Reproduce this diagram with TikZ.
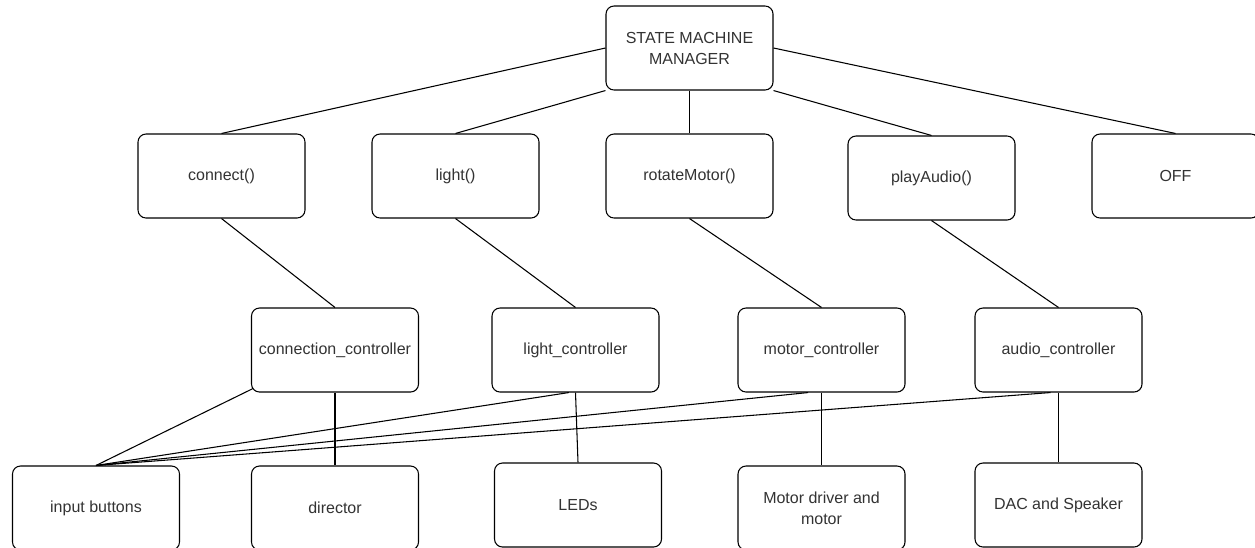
\documentclass[tikz,border=0pt]{standalone}
\usepackage{fontspec}
\setmainfont{Liberation Sans}
\tikzset{
  box/.style={draw, rounded corners=6pt, line width=0.8pt, fill=white,
    minimum width=125.25pt, minimum height=63pt, inner sep=0pt,
    align=center, text=black!80, font=\fontsize{12}{15.75}\selectfont}
}
\begin{document}
\begin{tikzpicture}[x=0.75pt, y=-0.75pt, line width=0.8pt]
  \useasboundingbox (0,0) rectangle (1255,547);
  \draw
    (689.5,48) node[box] (smm){STATE MACHINE\\MANAGER}
    (221.5,176) node[box] (con){connect()}
    (455.5,176) node[box] (lig){light()}
    (689.5,176) node[box] (rot){rotateMotor()}
    (931.5,178) node[box] (pla){playAudio()}
    (1175.5,176) node[box] (off){OFF}
    (335,350) node[box] (conc){connection\_controller}
    (575.5,350) node[box] (ligc){light\_controller}
    (821.5,350) node[box] (motc){motor\_controller}
    (1058.5,350) node[box] (audc){audio\_controller}
    (96,508) node[box] (inp){input buttons}
    (335,508) node[box] (dir){director}
    (578,505) node[box] (led){LEDs}
    (821.5,508) node[box] (drv){Motor driver and\\motor}
    (1058.5,505) node[box] (dac){DAC and Speaker};
  \begin{scope}[-]
    \draw (smm.west) to (con.north);
    \draw (smm.south west) to (lig.north);
    \draw (smm.south) to (rot.north);
    \draw (smm.south east) to (pla.north);
    \draw (smm.east) to (off.north);
    \draw (con.south) to (conc.north);
    \draw (lig.south) to (ligc.north);
    \draw (rot.south) to (motc.north);
    \draw (pla.south) to (audc.north);
    \draw ([shift={(2,-4)}]conc.south west) to (inp.north);
    \draw (conc.south) to (dir.north);
    \draw ([xshift=-5]ligc.south) to (inp.north);
    \draw (ligc.south) to (led.north);
    \draw ([xshift=-10]motc.south) to (inp.north);
    \draw (motc.south) to (drv.north);
    \draw ([xshift=-6]audc.south) to (inp.north);
    \draw (audc.south) to (dac.north);
  \end{scope}
\end{tikzpicture}
\end{document}
